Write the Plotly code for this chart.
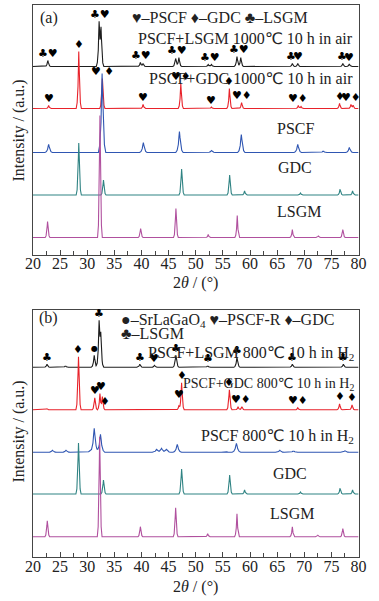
import numpy as np
import plotly.graph_objects as go

# ---------------- data: panel (a) ----------------
a_pscf_lsgm_2theta = [22.75, 32.2, 32.55, 39.8, 40.3, 46.3, 46.9, 52.3, 52.9, 57.6, 58.3, 67.8, 68.8, 77.1, 78.3]
a_pscf_lsgm_int = [6, 42, 36, 4, 3, 8, 9, 2, 2, 10, 9, 3, 3, 3, 2.5]

a_pscf_gdc_2theta = [22.9, 28.45, 32.8, 40.3, 47.25, 52.9, 56.2, 58.45, 68.9, 69.4, 76.5, 78.6, 79.0]
a_pscf_gdc_int = [3, 57, 30, 4, 25, 1.5, 20, 6, 3, 2, 5, 4, 3]

a_pscf_2theta = [22.9, 32.75, 40.35, 47.0, 52.9, 58.4, 68.8, 73.5, 78.3]
a_pscf_int = [8, 79, 10, 21, 2, 18, 8, 1.5, 5]

a_gdc_2theta = [28.45, 33.0, 47.4, 56.25, 59.0, 69.3, 76.6, 78.9]
a_gdc_int = [52, 15, 26, 20, 4, 2, 6, 4]

a_lsgm_2theta = [22.7, 32.35, 39.85, 46.35, 52.3, 57.65, 67.8, 72.6, 77.1]
a_lsgm_int = [16, 122, 9, 29, 3, 22, 8, 1.5, 8]

# ---------------- data: panel (b) ----------------
b_pscf_lsgm_2theta = [22.6, 26.0, 31.3, 32.2, 32.5, 39.7, 42.4, 46.35, 52.2, 57.6, 67.8, 77.2]
b_pscf_lsgm_int = [3, 1.5, 12, 42, 28, 3, 2, 12, 1.5, 10, 3, 3]

b_pscf_gdc_2theta = [22.6, 28.4, 31.4, 32.35, 32.8, 46.9, 47.4, 56.2, 57.8, 58.5, 68.8, 76.5, 78.8]
b_pscf_gdc_int = [1, 53, 12, 16, 13, 4, 27, 20, 3, 3, 2, 6, 5]

b_pscf_2theta = [23.6, 26.1, 30.5, 31.3, 32.45, 42.8, 43.7, 44.6, 46.6, 55.5, 57.5, 65.5, 68.0, 77.5]
b_pscf_int = [2, 2, 1.5, 24, 18, 3, 4, 3, 8, 1, 9, 2, 1.5, 1.5]

b_gdc_2theta = [28.4, 33.0, 47.4, 56.25, 59.0, 69.3, 76.6, 78.9]
b_gdc_int = [51, 14, 25, 19, 4, 2, 6, 4]

b_lsgm_2theta = [22.65, 32.3, 39.8, 46.3, 52.2, 57.6, 67.8, 72.5, 77.1]
b_lsgm_int = [16, 100, 10, 29, 3, 23, 10, 1.5, 8]

# phase markers: (2theta of identified peak, symbol, pattern index)
a_mark_2theta = [22.8, 32.35, 40.0, 46.6, 52.6, 57.9, 67.6, 68.9, 76.9, 78.2,
                 28.45, 22.9, 32.8, 40.3, 47.25, 52.9, 56.2, 58.45, 68.9, 76.5, 78.7]
a_mark_text = ["♣♥", "♣♥", "♣♥", "♣♥", "♣♥", "♣♥", "♣", "♥", "♣", "♥",
               "♦", "♥", "♥ ♦", "♥", "♥♦", "♥", "♦", "♥♦", "♥♦", "♦", "♥♦"]
a_mark_trace = [0, 0, 0, 0, 0, 0, 0, 0, 0, 0,
                1, 1, 1, 1, 1, 1, 1, 1, 1, 1, 1]

b_mark_2theta = [22.6, 31.3, 32.2, 39.7, 42.4, 46.35, 52.2, 57.6, 67.8, 77.2,
                 28.4, 31.4, 32.6, 33.3, 46.9, 47.4, 56.2, 58.3, 68.9, 76.5, 78.8]
b_mark_text = ["♣", "●", "♣", "♣", "♥", "♣", "♣", "♣", "♣", "♣",
               "♦", "♥", "♥", "♦", "♥", "♦", "♦", "♥♦", "♥♦", "♦", "♦"]
b_mark_trace = [0, 0, 0, 0, 0, 0, 0, 0, 0, 0,
                1, 1, 1, 1, 1, 1, 1, 1, 1, 1, 1]

# ---------------- styling ----------------
W, H = 379, 601
SERIF = "Liberation Serif, Times New Roman, DejaVu Sans, serif"
SYM = "DejaVu Sans"
COLORS = ["#1e1e1e", "#e8222a", "#2f56b2", "#2f8383", "#b0509e"]
HW_A = [0.13, 0.12, 0.17, 0.12, 0.11]
HW_B = [0.14, 0.12, 0.2, 0.12, 0.11]
OFF_A = [188, 146, 102, 59.5, 17]
OFF_B = [190, 147.5, 105, 63.3, 20.6]

DX = np.array([-4.0, -2.5, -1.2, -0.6, 0.0, 0.6, 1.2, 2.5, 4.0])
FR = np.array([0.0, 0.1, 0.38, 0.72, 1.0, 0.72, 0.38, 0.1, 0.0])


def pattern(pos, inten, hw):
    pos = np.asarray(pos, float)
    inten = np.asarray(inten, float)
    xs = np.concatenate([[20.0, 80.0]] + [p + DX * hw for p in pos])
    xs = np.unique(np.clip(xs, 20, 80))
    ys = np.zeros_like(xs)
    for p, h in zip(pos, inten):
        ys += np.interp(xs, p + DX * hw, h * FR, left=0, right=0)
    return xs, ys


fig = go.Figure()

panels = [
    ("x", "y", [(a_pscf_lsgm_2theta, a_pscf_lsgm_int), (a_pscf_gdc_2theta, a_pscf_gdc_int),
                (a_pscf_2theta, a_pscf_int), (a_gdc_2theta, a_gdc_int), (a_lsgm_2theta, a_lsgm_int)],
     HW_A, OFF_A, a_mark_2theta, a_mark_text, a_mark_trace),
    ("x2", "y2", [(b_pscf_lsgm_2theta, b_pscf_lsgm_int), (b_pscf_gdc_2theta, b_pscf_gdc_int),
                  (b_pscf_2theta, b_pscf_int), (b_gdc_2theta, b_gdc_int), (b_lsgm_2theta, b_lsgm_int)],
     HW_B, OFF_B, b_mark_2theta, b_mark_text, b_mark_trace),
]

annotations = []
for xa, ya, series, hws, offs, mk_x, mk_t, mk_i in panels:
    curves = []
    for i, (pos, inten) in enumerate(series):
        xs, ys = pattern(pos, inten, hws[i])
        curves.append((xs, ys))
        fig.add_trace(go.Scatter(x=xs, y=ys + offs[i], mode="lines", xaxis=xa, yaxis=ya,
                                 line=dict(color=COLORS[i], width=1.1), showlegend=False,
                                 hoverinfo="skip"))
    for x0, t, i in zip(mk_x, mk_t, mk_i):
        xs, ys = curves[i]
        sel = (xs >= x0 - 0.3) & (xs <= x0 + 0.3)
        top = ys[sel].max() if sel.any() else 0
        size = 8 if t == "●" else 11
        annotations.append(dict(x=x0, y=top + offs[i] + 7, xref=xa, yref=ya, text=t,
                                showarrow=False, xanchor="center", yanchor="middle",
                                font=dict(family=SYM, size=size, color="black")))


def px(x, y):
    return x / W, 1 - y / H


def label(text, x, y, size=16, xanchor="center", family=SERIF, angle=0):
    X, Y = px(x, y)
    annotations.append(dict(x=X, y=Y, xref="paper", yref="paper", text=text, showarrow=False,
                            xanchor=xanchor, yanchor="middle", textangle=angle,
                            font=dict(family=family, size=size, color="#222222")))


# panel (a) labels
label("(a)", 43, 18)
label("♥–PSCF ♦–GDC ♣–LSGM", 221, 18)
label("PSCF+LSGM 1000℃ 10 h in air", 362, 39, xanchor="right")
label("PSCF+GDC 1000℃ 10 h in air", 362, 78, xanchor="right")
label("PSCF", 300, 128)
label("GDC", 300, 168)
label("LSGM", 304, 211)
# panel (b) labels
label("(b)", 42, 318)
label("●–SrLaGaO<sub>4</sub> ♥–PSCF-R ♦–GDC", 116, 320, xanchor="left")
label("♣–LSGM", 116, 334, xanchor="left")
label("PSCF+LSGM 800℃ 10 h in H<sub>2</sub>", 363, 353, xanchor="right")
label("PSCF+GDC 800℃ 10 h in H<sub>2</sub>", 363, 384, size=14, xanchor="right")
label("PSCF 800℃ 10 h in H<sub>2</sub>", 363, 436, xanchor="right")
label("GDC", 294, 473)
label("LSGM", 297, 513)
# axis titles
label("Intensity / (a.u.)", 11, 131, angle=-90)
label("Intensity / (a.u.)", 11, 432, angle=-90)
label("2<i>θ</i> / (°)", 196, 283)
label("2<i>θ</i> / (°)", 196, 587)

LC = "#454545"
xcommon = dict(range=[20, 80], domain=[26 / W, 366 / W], showline=True, linecolor=LC, linewidth=1,
               mirror=True, ticks="inside", ticklen=5, tickcolor=LC, tick0=20, dtick=5,
               minor=dict(dtick=2.5, ticks="inside", ticklen=4, tickcolor=LC),
               ticklabelstandoff=-6,
               showgrid=False, zeroline=False, tickfont=dict(family=SERIF, size=16, color="#222222"))
ycommon = dict(showline=True, linecolor=LC, linewidth=1, mirror=True, ticks="", showticklabels=False,
               showgrid=False, zeroline=False)

fig.update_layout(
    width=W, height=H, margin=dict(l=0, r=0, t=0, b=0),
    paper_bgcolor="white", plot_bgcolor="white",
    xaxis=dict(anchor="y", **xcommon),
    yaxis=dict(anchor="x", range=[0, 250], domain=[1 - 254.5 / H, 1 - 4.5 / H], **ycommon),
    xaxis2=dict(anchor="y2", **xcommon),
    yaxis2=dict(anchor="x2", range=[0, 247.8], domain=[1 - 557.3 / H, 1 - 309.5 / H], **ycommon),
    annotations=annotations,
)

fig.write_html("out.html", config={"displayModeBar": False},
               post_script="document.body.style.margin='0';document.body.style.overflow='hidden';")
